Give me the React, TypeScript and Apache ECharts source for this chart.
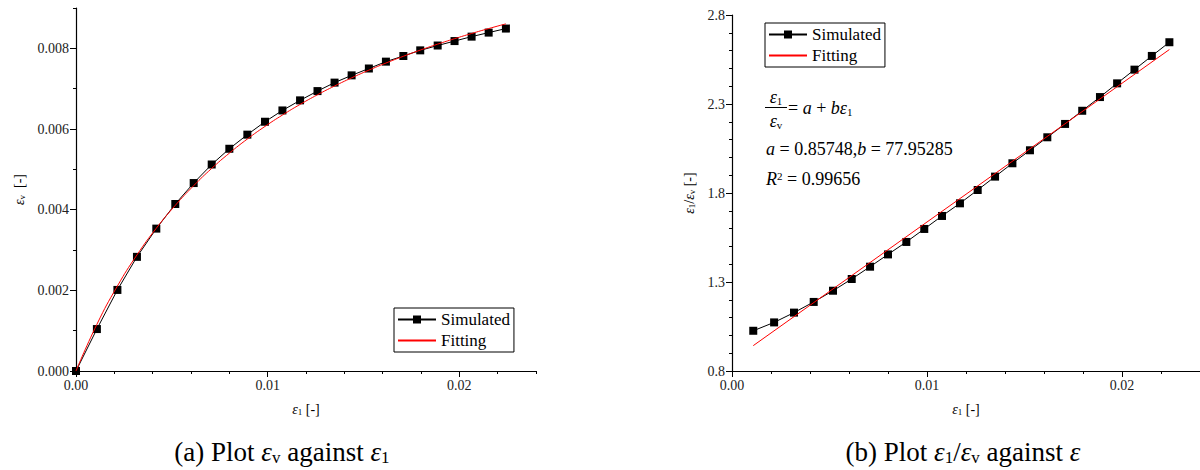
import React, { useEffect, useRef } from "react";
import * as echarts from "echarts";

const strainX = [0, 0.00109, 0.00216, 0.00318, 0.00419, 0.00518, 0.00614, 0.00708, 0.008, 0.00894, 0.00986, 0.01077, 0.01169, 0.0126, 0.01349, 0.01438, 0.01528, 0.01617, 0.01708, 0.01796, 0.01887, 0.01975, 0.02064, 0.02153, 0.02243];
const volStrain = [0, 0.00104, 0.00201, 0.00283, 0.00353, 0.00414, 0.00466, 0.00512, 0.00551, 0.00586, 0.00618, 0.00646, 0.00671, 0.00694, 0.00715, 0.00733, 0.0075, 0.00767, 0.00781, 0.00795, 0.00807, 0.00818, 0.00829, 0.00839, 0.00849];
const volStrainFit = [0, 0.001157, 0.002106, 0.002877, 0.003539, 0.004107, 0.004595, 0.005023, 0.005401, 0.005752, 0.006064, 0.006346, 0.006609, 0.006849, 0.007066, 0.007268, 0.007459, 0.007635, 0.007803, 0.007956, 0.008104, 0.008239, 0.008368, 0.00849, 0.008607];
const ratioX = strainX.slice(1);
const ratio = [1.026, 1.073, 1.128, 1.188, 1.251, 1.317, 1.386, 1.455, 1.525, 1.598, 1.671, 1.742, 1.817, 1.892, 1.967, 2.04, 2.113, 2.188, 2.262, 2.339, 2.416, 2.493, 2.57, 2.647];
const ratioFitX = [0.00109, 0.02243];
const ratioFit = [0.9425, 2.606];

const xMajor = [0, 0.01, 0.02];
const xMinor = [0.002, 0.004, 0.006, 0.008, 0.012, 0.014, 0.016, 0.018, 0.022, 0.024];
const yMajorA = [0, 0.002, 0.004, 0.006, 0.008];
const yMinorA = [0.001, 0.003, 0.005, 0.007, 0.009];
const yMajorB = [0.8, 1.3, 1.8, 2.3, 2.8];
const yMinorB = [0.9, 1.0, 1.1, 1.2, 1.4, 1.5, 1.6, 1.7, 1.9, 2.0, 2.1, 2.2, 2.4, 2.5, 2.6, 2.7];

const FONT = "Liberation Serif";
const BLACK = "#000";
const RED = "#ff0000";

function pairs(xs: number[], ys: number[]) {
  return xs.map((x, i) => [x, ys[i]]);
}

function richOf(size: number, sub: number) {
  return {
    t: { fontFamily: FONT, fontSize: size },
    i: { fontFamily: FONT, fontStyle: "italic", fontSize: size },
    s: { fontFamily: FONT, fontSize: sub, verticalAlign: "bottom" },
    p: { fontFamily: FONT, fontSize: sub, verticalAlign: "top" },
  };
}

function majorAxis(grid: number, min: number, max: number, major: number[], digits: number, name: string, nameGap: number) {
  return {
    type: "value",
    gridIndex: grid,
    min,
    max,
    name,
    nameLocation: "middle",
    nameGap,
    nameTextStyle: { fontFamily: FONT, fontSize: 14, color: BLACK, rich: richOf(14, 9) },
    axisLine: { show: true, onZero: false, lineStyle: { color: BLACK, width: 1.2 } },
    axisTick: { show: true, inside: false, length: 6, customValues: major, lineStyle: { color: BLACK, width: 1 } },
    axisLabel: {
      show: true,
      customValues: major,
      margin: 7,
      fontFamily: FONT,
      fontSize: 14,
      color: "#222",
      formatter: (v: number) => v.toFixed(digits),
    },
    splitLine: { show: false },
  } as any;
}

function minorAxis(grid: number, min: number, max: number, minor: number[]) {
  return {
    type: "value",
    gridIndex: grid,
    min,
    max,
    axisLine: { show: false, onZero: false },
    axisTick: { show: true, inside: false, length: 3, customValues: minor, lineStyle: { color: BLACK, width: 1 } },
    axisLabel: { show: false },
    splitLine: { show: false },
  } as any;
}

function legendOf(names: string[], left: number, top: number) {
  return {
    data: [
      { name: names[0] },
      { name: names[1], itemStyle: { opacity: 0 } },
    ],
    orient: "vertical",
    left,
    top,
    itemWidth: 38,
    itemHeight: 10,
    itemGap: 4,
    padding: [3, 4, 3, 3],
    borderColor: BLACK,
    borderWidth: 1,
    textStyle: { fontFamily: FONT, fontSize: 17, color: BLACK },
    formatter: (n: string) => n.trim(),
    selectedMode: false,
  };
}

export default function App() {
  const ref = useRef<HTMLDivElement>(null);
  useEffect(() => {
    if (!ref.current) return;
    const chart = echarts.init(ref.current, undefined, { renderer: "svg" });
    const gridA = { left: 76, top: 8, width: 460, height: 363 };
    const gridB = { left: 732, top: 15, width: 468, height: 356 };
    const eqRich = richOf(18, 11);
    const capRich = richOf(27, 17);
    const option: any = {
      animation: false,
      textStyle: { fontFamily: FONT },
      grid: [gridA, gridA, gridB, gridB].map((g) => ({ ...g, containLabel: false })),
      xAxis: [
        majorAxis(0, 0, 0.024, xMajor, 2, "{i|ε}{s|1}{t| [-]}", 31),
        minorAxis(1, 0, 0.024, xMinor),
        majorAxis(2, 0, 0.024, xMajor, 2, "{i|ε}{s|1}{t| [-]}", 31),
        minorAxis(3, 0, 0.024, xMinor),
      ],
      yAxis: [
        majorAxis(0, 0, 0.009, yMajorA, 3, "{i|ε}{s|v}{t|  [-]}", 50),
        minorAxis(1, 0, 0.009, yMinorA),
        majorAxis(2, 0.8, 2.8, yMajorB, 1, "{i|ε}{s|1}{t|/}{i|ε}{s|v}{t| [-]}", 36),
        minorAxis(3, 0.8, 2.8, yMinorB),
      ],
      legend: [legendOf(["Simulated", "Fitting"], 394, 308), legendOf(["Simulated ", "Fitting "], 765, 23)],
      series: [
        {
          name: "Simulated",
          type: "line",
          xAxisIndex: 0,
          yAxisIndex: 0,
          data: pairs(strainX, volStrain),
          symbol: "rect",
          symbolSize: 8,
          itemStyle: { color: BLACK },
          lineStyle: { color: BLACK, width: 1 },
          z: 2,
        },
        {
          name: "Fitting",
          type: "line",
          xAxisIndex: 0,
          yAxisIndex: 0,
          data: pairs(strainX, volStrainFit),
          symbol: "none",
          smooth: true,
          itemStyle: { color: RED },
          lineStyle: { color: RED, width: 1 },
          z: 3,
        },
        {
          name: "Simulated ",
          type: "line",
          xAxisIndex: 2,
          yAxisIndex: 2,
          data: pairs(ratioX, ratio),
          symbol: "rect",
          symbolSize: 8,
          itemStyle: { color: BLACK },
          lineStyle: { color: BLACK, width: 1 },
          z: 2,
        },
        {
          name: "Fitting ",
          type: "line",
          xAxisIndex: 2,
          yAxisIndex: 2,
          data: pairs(ratioFitX, ratioFit),
          symbol: "none",
          itemStyle: { color: RED },
          lineStyle: { color: RED, width: 1 },
          z: 3,
        },
      ],
      graphic: [
        {
          type: "text",
          style: { x: 776, y: 97, text: "{i|ε}{s|1}", fontFamily: FONT, fontSize: 18, align: "center", verticalAlign: "middle", rich: eqRich, fill: BLACK },
        },
        { type: "line", shape: { x1: 765, y1: 107.5, x2: 787, y2: 107.5 }, style: { stroke: BLACK, lineWidth: 1 } },
        {
          type: "text",
          style: { x: 776, y: 121, text: "{i|ε}{s|v}", fontFamily: FONT, fontSize: 18, align: "center", verticalAlign: "middle", rich: eqRich, fill: BLACK },
        },
        {
          type: "text",
          style: { x: 788, y: 108, text: "{t|= }{i|a}{t| + }{i|bε}{s|1}", fontFamily: FONT, fontSize: 18, verticalAlign: "middle", rich: eqRich, fill: BLACK },
        },
        {
          type: "text",
          style: { x: 766, y: 149, text: "{i|a}{t| = 0.85748,}{i|b}{t| = 77.95285}", fontFamily: FONT, fontSize: 18, verticalAlign: "middle", rich: eqRich, fill: BLACK },
        },
        {
          type: "text",
          style: { x: 766, y: 179, text: "{i|R}{p|2}{t| = 0.99656}", fontFamily: FONT, fontSize: 18, verticalAlign: "middle", rich: eqRich, fill: BLACK },
        },
        {
          type: "text",
          style: { x: 282, y: 452, text: "{t|(a) Plot }{i|ε}{s|v}{t| against }{i|ε}{s|1}", fontFamily: FONT, fontSize: 27, align: "center", verticalAlign: "middle", rich: capRich, fill: BLACK },
        },
        {
          type: "text",
          style: { x: 963, y: 452, text: "{t|(b) Plot }{i|ε}{s|1}{t|/}{i|ε}{s|v}{t| against }{i|ε}", fontFamily: FONT, fontSize: 27, align: "center", verticalAlign: "middle", rich: capRich, fill: BLACK },
        },
      ],
    };
    chart.setOption(option);
    return () => chart.dispose();
  }, []);
  return <div ref={ref} style={{ position: "fixed", left: 0, top: 0, width: 1200, height: 470, background: "#fff" }} />;
}
